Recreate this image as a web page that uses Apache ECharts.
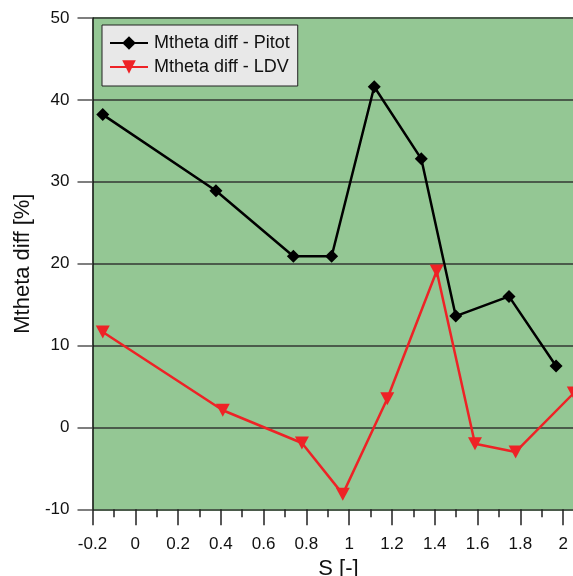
<!DOCTYPE html>
<html>
<head>
<meta charset="utf-8">
<script src="https://cdn.jsdelivr.net/npm/echarts@6/dist/echarts.min.js"></script>
<style>html,body{margin:0;padding:0;background:#fff;}#c{width:573px;height:576px;}</style>
</head>
<body>
<div id="c"></div>
<script>
var seriesNames = ['Mtheta diff - Pitot', 'Mtheta diff - LDV'];
var pitotX = [-0.152, 0.377, 0.739, 0.918, 1.117, 1.337, 1.498, 1.747, 1.967];
var pitotY = [38.2, 28.9, 20.9, 20.9, 41.6, 32.8, 13.6, 16.0, 7.5];
var ldvX = [-0.152, 0.409, 0.779, 0.970, 1.178, 1.409, 1.588, 1.778, 2.05];
var ldvY = [11.65, 2.1, -1.9, -8.15, 3.5, 19.1, -2.0, -3.0, 4.2];
var xLabelName = 'S [-]';
var yLabelName = 'Mtheta diff [%]';

function pairs(xs, ys) { return xs.map(function (x, i) { return [x, ys[i]]; }); }

var chart = echarts.init(document.getElementById('c'), null, { renderer: 'canvas' });
var font = 'Liberation Sans, Arial, sans-serif';
chart.setOption({
  animation: false,
  backgroundColor: '#ffffff',
  grid: {
    left: 92.5, top: 18, right: -11.5, bottom: 66.7,
    containLabel: false, outerBoundsMode: 'none',
    show: true, backgroundColor: '#94C794', borderWidth: 0
  },
  legend: {
    orient: 'vertical',
    left: 102, top: 25,
    padding: [9, 8, 10, 7],
    itemWidth: 38, itemHeight: 17, itemGap: 6,
    backgroundColor: '#E8E8E8', borderColor: '#222', borderWidth: 1, borderRadius: 0,
    textStyle: { fontFamily: font, fontSize: 18, color: '#111', padding: [0, 0, 0, 1] },
    data: seriesNames
  },
  xAxis: {
    type: 'value', min: -0.2, max: 2.1, interval: 0.2,
    name: xLabelName, nameLocation: 'middle', nameGap: 46,
    nameTextStyle: { fontFamily: font, fontSize: 22, color: '#111' },
    axisLine: { show: false, onZero: false },
    axisTick: { show: true, inside: false, length: 16, lineStyle: { color: '#222', width: 1.5 } },
    minorTick: { show: true, splitNumber: 2, length: 8, lineStyle: { color: '#222', width: 1.5 } },
    splitLine: { show: false },
    axisLabel: {
      fontFamily: font, fontSize: 17, color: '#111', margin: 27, showMaxLabel: false,
      formatter: function (v) { return (Math.round(v * 10) / 10).toString(); }
    }
  },
  yAxis: {
    type: 'value', min: -10, max: 50, interval: 10,
    name: yLabelName, nameLocation: 'middle', nameGap: 57, nameRotate: 90,
    nameTextStyle: { fontFamily: font, fontSize: 22, color: '#111' },
    axisLine: { show: true, onZero: false, lineStyle: { color: '#111', width: 1.5 } },
    axisTick: { show: true, inside: false, length: 15, lineStyle: { color: '#555', width: 1.5 } },
    splitLine: { show: true, lineStyle: { color: '#4B5B4B', width: 1.8 } },
    axisLabel: { fontFamily: font, fontSize: 17, color: '#111', margin: 23 }
  },
  series: [
    {
      name: seriesNames[0], type: 'line', data: pairs(pitotX, pitotY),
      symbol: 'diamond', symbolSize: 13,
      lineStyle: { color: '#000', width: 2.5 },
      itemStyle: { color: '#000' },
      clip: true
    },
    {
      name: seriesNames[1], type: 'line', data: pairs(ldvX, ldvY),
      symbol: 'path://M0,0L10,0L5,9Z', symbolSize: [14, 13],
      lineStyle: { color: '#EE2226', width: 2.5 },
      itemStyle: { color: '#EE2226' },
      clip: true
    }
  ]
});
</script>
</body>
</html>
